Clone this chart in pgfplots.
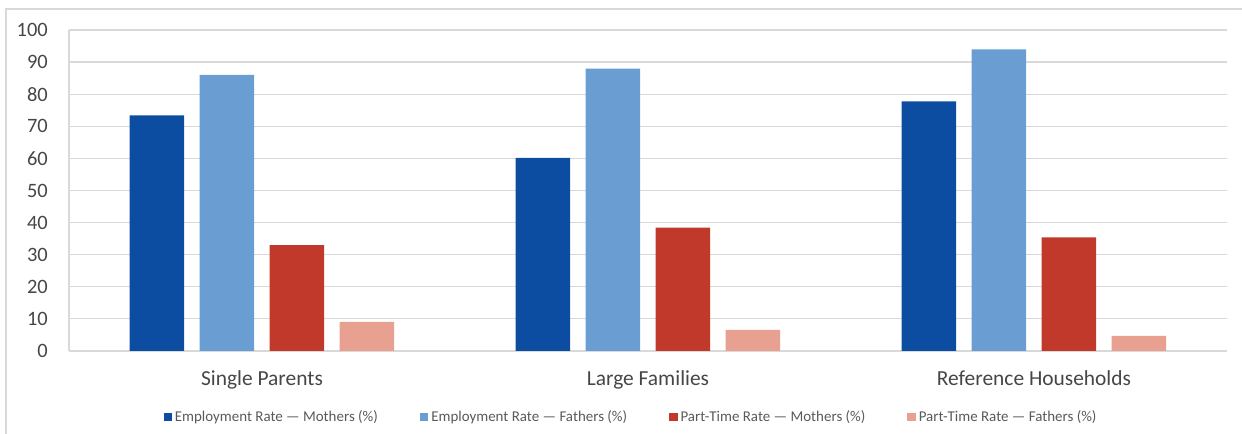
\documentclass[border=0pt]{standalone}
\usepackage{pgfplots}
\pgfplotsset{compat=1.18}
\usepackage{fontspec}
\setmainfont{Carlito}
\definecolor{empM}{RGB}{13,77,161}
\definecolor{empF}{RGB}{106,158,210}
\definecolor{ptM}{RGB}{192,57,43}
\definecolor{ptF}{RGB}{232,160,145}
\definecolor{gridgray}{RGB}{217,217,217}
\definecolor{txt}{RGB}{70,70,70}
\definecolor{legtxt}{RGB}{89,89,89}
\begin{document}
\begin{tikzpicture}
\useasboundingbox (0,0) rectangle (1242bp,434bp);
\draw[gridgray, line width=1.2bp] (6bp,-2bp) -- (6bp,425bp) -- (1244bp,425bp);
\begin{axis}[
  at={(69bp,83bp)}, anchor=south west,
  scale only axis, width=1158bp, height=321bp,
  ymin=0, ymax=100, ytick={0,10,...,100},
  xmin=-0.5, xmax=2.5, xtick={0,1,2},
  xticklabels={Single Parents, Large Families, Reference Households},
  ybar=15.5bp, bar width=54.5bp,
  axis lines*=left,
  axis line style={draw=gridgray, line width=1.2bp, -},
  ymajorgrids, grid style={gridgray, line width=1.2bp},
  major tick length=0pt,
  /pgf/number format/assume math mode=true,
  yticklabel style={font=\fontsize{20.5}{24}\selectfont, text=txt, anchor=east, inner sep=0pt, xshift=-21bp},
  xticklabel style={font=\fontsize{21.5}{26}\selectfont, text=txt, anchor=north, inner sep=0pt, yshift=-19.5bp},
  legend columns=4,
  legend style={draw=none, fill=none, at={(0.4845,-0.2047)}, anchor=center,
    font=\fontsize{15}{18}\selectfont, text=legtxt,
    nodes={inner sep=0pt},
    /tikz/every odd column/.append style={column sep=3bp},
    /tikz/every even column/.append style={column sep=42bp}},
  legend image code/.code={\fill[#1] (0bp,-4bp) rectangle (8.3bp,4bp);},
]
\addplot[fill=empM, draw=none] coordinates {(0,73.4) (1,60.2) (2,77.8)};
\addplot[fill=empF, draw=none] coordinates {(0,86.0) (1,88.0) (2,94.0)};
\addplot[fill=ptM, draw=none] coordinates {(0,33.0) (1,38.4) (2,35.4)};
\addplot[fill=ptF, draw=none] coordinates {(0,9.1) (1,6.6) (2,4.7)};
\legend{Employment Rate — Mothers (\%), Employment Rate — Fathers (\%), Part-Time Rate — Mothers (\%), Part-Time Rate — Fathers (\%)}
\end{axis}
\end{tikzpicture}
\end{document}
